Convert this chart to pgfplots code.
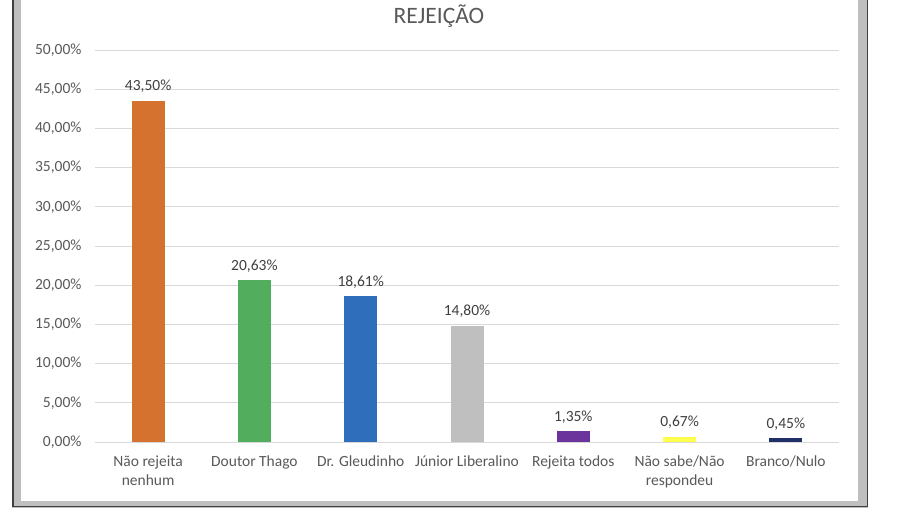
\documentclass[border=0pt]{standalone}
\usepackage{fontspec}
\setmainfont{Carlito}
\usepackage{pgfplots}
\pgfplotsset{compat=1.18}
\definecolor{cOrange}{HTML}{D6722F}
\definecolor{cGreen}{HTML}{52AD5C}
\definecolor{cBlue}{HTML}{2E6EBA}
\definecolor{cGray}{HTML}{BFBFBF}
\definecolor{cPurple}{HTML}{6B349D}
\definecolor{cYellow}{HTML}{FFFF4D}
\definecolor{cNavy}{HTML}{1F3068}
\definecolor{gridgray}{HTML}{D9D9D9}
\definecolor{tickc}{HTML}{595959}
\definecolor{labelc}{HTML}{404040}
\definecolor{frameg}{HTML}{BFBFBF}
\definecolor{framed}{HTML}{3F3F3F}
\begin{document}
\begin{tikzpicture}[x=1pt,y=1pt]
\useasboundingbox (0,0) rectangle (901,508);
\fill[white] (0,0) rectangle (901,508);
% frame
\fill[frameg] (12,0.5) rectangle (21,508);
\fill[frameg] (12,0.5) rectangle (868,6.5);
\fill[frameg] (858,0.5) rectangle (868,508);
\draw[framed,line width=1.6pt] (12.8,508) -- (12.8,1.6) -- (867.6,1.6) -- (867.6,508);
\node[anchor=base,text=tickc,font=\fontsize{23.5}{28}\selectfont] at (439,484.7) {REJEIÇÃO};
\begin{axis}[
  at={(95pt,66pt)}, anchor=south west,
  scale only axis, width=744pt, height=392pt,
  xmin=-0.5, xmax=6.5, ymin=0, ymax=50,
  ytick={0,5,...,50},
  xtick={0,...,6},
  xticklabels={{Não rejeita\\nenhum},{Doutor Thago},{Dr. Gleudinho},{Júnior Liberalino},{Rejeita todos},{Não sabe/Não\\respondeu},{Branco/Nulo}},
  yticklabel={\pgfmathprintnumber[fixed,fixed zerofill,precision=2,use comma,assume math mode=true]{\tick}\%},
  /pgf/number format/assume math mode=true,
  ymajorgrids, grid style={gridgray,line width=0.9pt},
  axis line style={draw=none},
  major tick length=0pt, tick style={draw=none},
  x tick label style={align=center,font=\fontsize{15.5}{19}\selectfont,text=tickc,yshift=-10pt},
  y tick label style={font=\fontsize{15.5}{19}\selectfont,text=tickc,xshift=-10pt},
  ybar,
  every axis plot/.append style={ybar,bar width=33pt,bar shift=0pt,draw=none},
  nodes near coords={\pgfmathprintnumber[fixed,fixed zerofill,precision=2,use comma,assume math mode=true]{\pgfplotspointmeta}\%},
  every node near coord/.append style={font=\fontsize{15.5}{19}\selectfont,text=labelc,anchor=base,yshift=10pt},
]
\addplot[fill=cOrange] coordinates {(0,43.50)};
\addplot[fill=cGreen] coordinates {(1,20.63)};
\addplot[fill=cBlue] coordinates {(2,18.61)};
\addplot[fill=cGray] coordinates {(3,14.80)};
\addplot[fill=cPurple] coordinates {(4,1.35)};
\addplot[fill=cYellow] coordinates {(5,0.67)};
\addplot[fill=cNavy] coordinates {(6,0.45)};
\end{axis}
\end{tikzpicture}
\end{document}
